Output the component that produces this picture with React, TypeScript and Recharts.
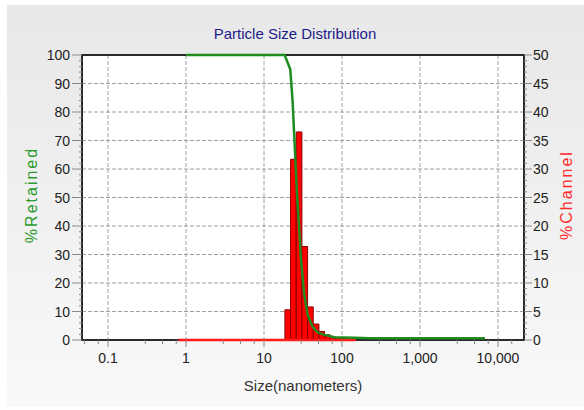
import React from 'react';
import { ComposedChart, XAxis, YAxis, Line, ReferenceArea, CartesianGrid } from 'recharts';

// ---- data ----
const binLow = [18.53, 21.9, 25.9, 30.6, 36.2, 42.8, 50.6, 59.8, 70.7, 83.5, 98.7, 116.7];
const binHigh = [21.9, 25.9, 30.6, 36.2, 42.8, 50.6, 59.8, 70.7, 83.5, 98.7, 116.7, 137.9];
const channelPct = [5.3, 31.7, 36.5, 16.4, 5.8, 2.8, 1.5, 0.9, 0.5, 0.35, 0.25, 0.15];

const cumSize = [1, 18.4, 21.71, 23.23, 24.86, 26.52, 28.29, 29.82, 32.76, 36.09, 41.81, 48.41, 59.46, 79.76, 143, 224, 6800];
const cumRetained = [100, 100, 95, 84, 67, 51, 39, 28, 16, 9, 4.7, 2.7, 1.8, 1.0, 0.8, 0.6, 0.6];

const channelBaseSize = [0.8, 150];
const channelBaseVal = [0, 0];

const xDomain = [0.0464, 21544];
const xMajorTicks = [0.1, 1, 10, 100, 1000, 10000];
const xMinorTicks = [0.05, 0.075, 0.3, 0.5, 0.75, 3, 5, 7.5, 30, 50, 75, 300, 500, 750, 3000, 5000, 7500, 15000];
const xTickLabels = ['0.1', '1', '10', '100', '1,000', '10,000'];

const leftMajorTicks = [0, 10, 20, 30, 40, 50, 60, 70, 80, 90, 100];
const rightMajorTicks = [0, 5, 10, 15, 20, 25, 30, 35, 40, 45, 50];
const leftMinorStep = 2;
const rightMinorStep = 1;

const title = 'Particle Size Distribution';
const xTitle = 'Size(nanometers)';
const leftTitle = '%Retained';
const rightTitle = '%Channel';

// ---- derived tables ----
const retainedData = cumSize.map((s, i) => ({ size: s, retained: cumRetained[i] }));
const baseData = channelBaseSize.map((s, i) => ({ size: s, channel: channelBaseVal[i] }));
const xTicks = [...xMajorTicks, ...xMinorTicks].sort((a, b) => a - b);
const minorsFor = (majors: number[], step: number) => {
  const out: number[] = [];
  for (let v = majors[0]; v <= majors[majors.length - 1] + 1e-9; v += step) out.push(Math.round(v * 100) / 100);
  return out;
};
const leftTicks = minorsFor(leftMajorTicks, leftMinorStep);
const rightTicks = minorsFor(rightMajorTicks, rightMinorStep);

const FONT = "'Liberation Sans', Arial, sans-serif";
const TICK_COLOR = '#222';

const LeftTick = (props: any) => {
  const { x, y, payload } = props;
  const v = payload.value;
  const major = leftMajorTicks.includes(v);
  return (
    <g>
      <line x1={x} x2={x - (major ? 10 : 3)} y1={y} y2={y} stroke="#888" strokeWidth={1} />
      {major && (
        <text x={x - 12} y={y} textAnchor="end" dominantBaseline="central" fontFamily={FONT} fontSize={14} fill={TICK_COLOR}>
          {v}
        </text>
      )}
    </g>
  );
};

const RightTick = (props: any) => {
  const { x, y, payload } = props;
  const v = payload.value;
  const major = rightMajorTicks.includes(v);
  return (
    <g>
      <line x1={x} x2={x + (major ? 8 : 3)} y1={y} y2={y} stroke="#888" strokeWidth={1} />
      {major && (
        <text x={x + 9} y={y} textAnchor="start" dominantBaseline="central" fontFamily={FONT} fontSize={14} fill={TICK_COLOR}>
          {v}
        </text>
      )}
    </g>
  );
};

const BottomTick = (props: any) => {
  const { x, y, payload } = props;
  const v = payload.value;
  const idx = xMajorTicks.indexOf(v);
  const major = idx >= 0;
  return (
    <g>
      <line x1={x} x2={x} y1={y} y2={y + (major ? 7 : 4)} stroke="#888" strokeWidth={1} />
      {major && (
        <text x={x} y={y + 18} textAnchor="middle" dominantBaseline="central" fontFamily={FONT} fontSize={14} fill={TICK_COLOR}>
          {xTickLabels[idx]}
        </text>
      )}
    </g>
  );
};

export default function App() {
  return (
    <div style={{ position: 'absolute', left: 0, top: 0, width: 584, height: 410, background: '#fff', overflow: 'hidden' }}>
      <div
        style={{
          position: 'absolute',
          left: 7,
          top: 5,
          width: 577,
          height: 402,
          background: 'linear-gradient(to bottom, #e8e8e8 0%, #f0f0f0 50%, #f9f9f9 100%)',
        }}
      />
      <div style={{ position: 'absolute', left: 0, top: 0 }}>
        <ComposedChart width={584} height={410} margin={{ top: 55, right: 0, bottom: 0, left: 0 }}>
          <CartesianGrid
            xAxisId="x"
            yAxisId="left"
            fill="#ffffff"
            stroke="#a0a0a0"
            strokeDasharray="4 2"
            horizontalValues={leftMajorTicks.slice(1, -1)}
            verticalValues={xMajorTicks}
          />
          <XAxis
            xAxisId="x"
            dataKey="size"
            type="number"
            scale="log"
            domain={xDomain}
            allowDataOverflow
            ticks={xTicks}
            interval={0}
            height={70}
            tickSize={0}
            tickMargin={0}
            tickLine={false}
            axisLine={false}
            tick={<BottomTick />}
          />
          <YAxis
            yAxisId="left"
            orientation="left"
            type="number"
            domain={[0, 100]}
            ticks={leftTicks}
            interval={0}
            width={82}
            tickSize={0}
            tickMargin={0}
            tickLine={false}
            axisLine={false}
            tick={<LeftTick />}
          />
          <YAxis
            yAxisId="right"
            orientation="right"
            type="number"
            domain={[0, 50]}
            ticks={rightTicks}
            interval={0}
            width={60}
            tickSize={0}
            tickMargin={0}
            tickLine={false}
            axisLine={false}
            tick={<RightTick />}
          />
          <Line
            xAxisId="x"
            yAxisId="right"
            data={baseData}
            dataKey="channel"
            stroke="#ff1a1a"
            strokeWidth={2.5}
            dot={false}
            isAnimationActive={false}
          />
          {channelPct.map((v, i) => (
            <ReferenceArea
              key={i}
              xAxisId="x"
              yAxisId="right"
              x1={binLow[i]}
              x2={binHigh[i]}
              y1={0}
              y2={v}
              fill="#ff0000"
              fillOpacity={1}
              stroke="#8a0000"
              strokeWidth={1}
              ifOverflow="visible"
            />
          ))}
          <Line
            xAxisId="x"
            yAxisId="left"
            data={retainedData}
            dataKey="retained"
            stroke="#1e8c1e"
            strokeWidth={2.5}
            dot={false}
            isAnimationActive={false}
          />
          <ReferenceArea
            xAxisId="x"
            yAxisId="left"
            y1={0}
            y2={100}
            fill="none"
            stroke="#2a2a2a"
            strokeWidth={2}
            ifOverflow="visible"
          />
        </ComposedChart>
      </div>
      <div
        style={{
          position: 'absolute',
          left: 0,
          width: 590,
          top: 23,
          textAlign: 'center',
          fontFamily: FONT,
          fontSize: 15,
          lineHeight: '22px',
          color: '#1c1c8a',
        }}
      >
        {title}
      </div>
      <div
        style={{
          position: 'absolute',
          left: 82,
          width: 442,
          top: 375,
          textAlign: 'center',
          fontFamily: FONT,
          fontSize: 15,
          lineHeight: '22px',
          color: '#333',
        }}
      >
        {xTitle}
      </div>
      <div
        style={{
          position: 'absolute',
          left: 32 - 75,
          top: 195 - 11,
          width: 150,
          height: 22,
          lineHeight: '22px',
          textAlign: 'center',
          transform: 'rotate(-90deg)',
          fontFamily: FONT,
          fontSize: 16,
          letterSpacing: 2,
          color: '#2a9a2a',
        }}
      >
        {leftTitle}
      </div>
      <div
        style={{
          position: 'absolute',
          left: 567 - 75,
          top: 195 - 11,
          width: 150,
          height: 22,
          lineHeight: '22px',
          textAlign: 'center',
          transform: 'rotate(-90deg)',
          fontFamily: FONT,
          fontSize: 16,
          letterSpacing: 2,
          color: '#ff2a2a',
        }}
      >
        {rightTitle}
      </div>
    </div>
  );
}
